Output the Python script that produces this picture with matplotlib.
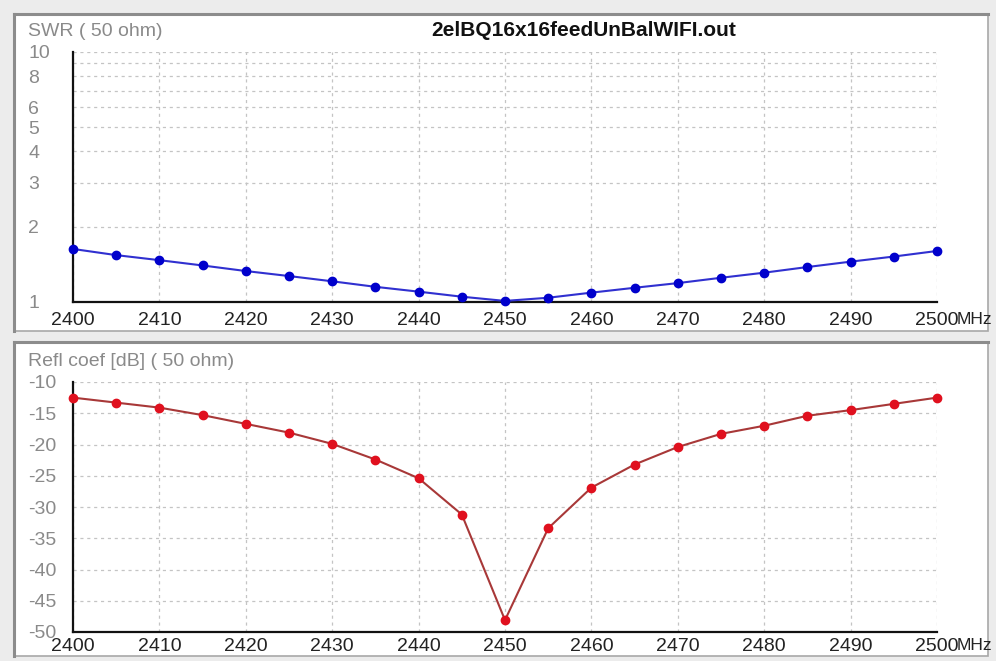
"""
SWR / return loss sweep, 2400-2500 MHz (antenna model output).
"""

import matplotlib
matplotlib.use("Agg")
import matplotlib.pyplot as plt
from matplotlib.patches import Rectangle

plt.rcParams['font.family'] = ['Liberation Sans', 'DejaVu Sans']
plt.rcParams['axes.unicode_minus'] = False

# 数据
freq = [2400, 2405, 2410, 2415, 2420, 2425, 2430, 2435, 2440, 2445, 2450,
        2455, 2460, 2465, 2470, 2475, 2480, 2485, 2490, 2495, 2500]
swr = [1.63, 1.54, 1.47, 1.40, 1.33, 1.27, 1.21, 1.15, 1.10, 1.05, 1.01,
       1.04, 1.09, 1.14, 1.19, 1.25, 1.31, 1.38, 1.45, 1.52, 1.60]
refl_db = [-12.5, -13.3, -14.1, -15.3, -16.7, -18.1, -19.9, -22.4, -25.4, -31.2, -48.1,
           -33.4, -26.9, -23.2, -20.4, -18.3, -17.0, -15.4, -14.5, -13.5, -12.5]

x_ticks = [2400, 2410, 2420, 2430, 2440, 2450, 2460, 2470, 2480, 2490, 2500]
swr_ticks = [1, 2, 3, 4, 5, 6, 7, 8, 9, 10]
swr_labels = ['1', '2', '3', '4', '5', '6', '', '8', '', '10']
db_ticks = [-50, -45, -40, -35, -30, -25, -20, -15, -10]

title = "2elBQ16x16feedUnBalWIFI.out"
swr_name = "SWR ( 50 ohm)"
db_name = "Refl coef [dB] ( 50 ohm)"

W, H = 996, 661
GRID = dict(color='#c4c4c4', linestyle=(0, (2.5, 3)), linewidth=0.9)


def fx(px):
    return px / W


def fy(py):
    return 1 - py / H


def panel(fig, top, bottom):
    """白色面板 + 边框"""
    fig.add_artist(Rectangle((fx(14), fy(bottom)), fx(988) - fx(14), fy(top) - fy(bottom),
                             transform=fig.transFigure, facecolor='white',
                             edgecolor='#a8a8a8', linewidth=1.2, zorder=0))
    # 上、左边较深
    fig.add_artist(plt.Line2D([fx(14), fx(988)], [fy(top), fy(top)], transform=fig.transFigure,
                              color='#8c8c8c', linewidth=2.2, zorder=0.5))
    fig.add_artist(plt.Line2D([fx(14), fx(14)], [fy(top), fy(bottom)], transform=fig.transFigure,
                              color='#8c8c8c', linewidth=2.2, zorder=0.5))


def style_axes(ax, xpad):
    ax.set_facecolor('none')
    for s in ('top', 'right'):
        ax.spines[s].set_visible(False)
    for s in ('left', 'bottom'):
        ax.spines[s].set_color('#111111')
        ax.spines[s].set_linewidth(1.6)
    ax.set_xlim(2400, 2500)
    ax.set_xticks(x_ticks)
    ax.grid(True, **GRID)
    ax.set_axisbelow(True)
    ax.tick_params(axis='x', length=0, pad=xpad, labelsize=14, labelcolor='#222222')
    ax.tick_params(axis='y', length=0, pad=32.4, labelsize=14, labelcolor='#8a8a8a')
    ax.tick_params(which='minor', length=0)
    for lab in ax.get_yticklabels():
        lab.set_horizontalalignment('left')
    # 最后一个刻度后面接单位
    ax.annotate("MHz", xy=(1, 0), xycoords='axes fraction', xytext=(14.0, -xpad + 0.4),
                textcoords='offset points', ha='left', va='top', fontsize=12.5, color='#222222')


fig = plt.figure(figsize=(W / 100, H / 100), dpi=100)
fig.patch.set_facecolor('#ececec')

panel(fig, 14, 331)
panel(fig, 342, 656)

# SWR
ax1 = fig.add_axes((fx(73), fy(302), fx(937) - fx(73), fy(52) - fy(302)))
ax1.set_yscale('log')
ax1.set_ylim(1, 10)
ax1.set_yticks(swr_ticks)
ax1.set_yticklabels(swr_labels)
ax1.yaxis.set_minor_locator(matplotlib.ticker.NullLocator())
ax1.plot(freq, swr, color='#3030d0', linewidth=1.5, marker='o', markersize=6,
         markerfacecolor='#0000cc', markeredgecolor='#0000cc', clip_on=False, zorder=3)
style_axes(ax1, 7.5)

# 反射系数
ax2 = fig.add_axes((fx(73), fy(632), fx(937) - fx(73), fy(382) - fy(632)))
ax2.set_ylim(-50, -10)
ax2.set_yticks(db_ticks)
ax2.plot(freq, refl_db, color='#a83838', linewidth=1.5, marker='o', markersize=6,
         markerfacecolor='#e0101e', markeredgecolor='#e0101e', clip_on=False, zorder=3)
style_axes(ax2, 4.5)

fig.text(fx(28), fy(32), swr_name, ha='left', va='center', fontsize=14, color='#8a8a8a')
fig.text(fx(28), fy(362), db_name, ha='left', va='center', fontsize=14, color='#8a8a8a')
fig.text(fx(584), fy(30), title, ha='center', va='center', fontsize=15,
         fontweight='bold', color='#111111')

fig.savefig("out.png", dpi=100, facecolor=fig.get_facecolor())
